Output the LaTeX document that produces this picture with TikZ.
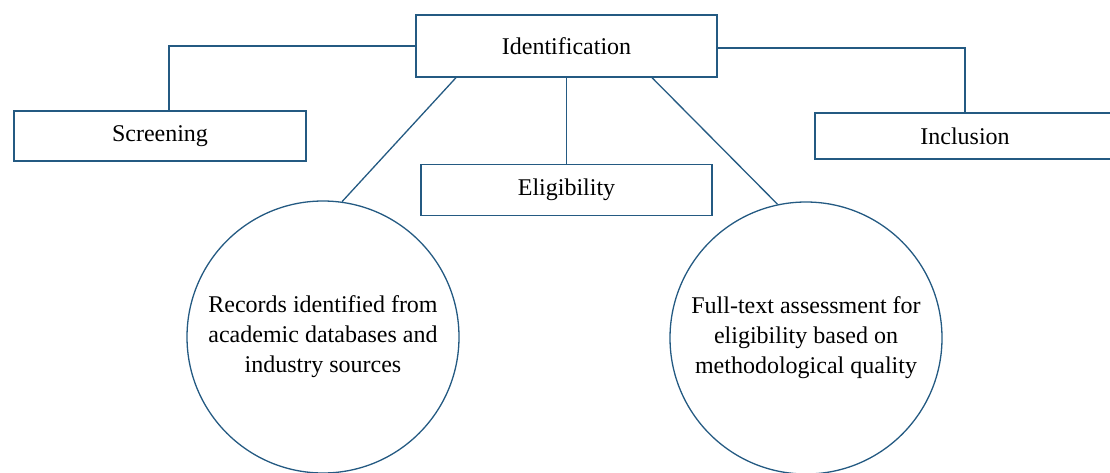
\documentclass[tikz,border=0pt]{standalone}
\usepackage{fontspec}
\setmainfont{Liberation Serif}
\definecolor{edge}{HTML}{245A82}
\begin{document}
\begin{tikzpicture}[x=1pt,y=-1pt,
  box/.style={draw=edge,line width=1.3pt,rectangle,inner sep=0pt,font=\fontsize{24}{30}\selectfont},
  disc/.style={draw=edge,line width=1.3pt,circle,inner sep=0pt,minimum size=272pt,align=center,font=\fontsize{24}{30}\selectfont},
  link/.style={draw=edge,line width=1.3pt}]
\useasboundingbox (0,0) rectangle (1110,472);
\clip (0,0) rectangle (1110,472);
\node[box,minimum width=301pt,minimum height=62pt] (ident) at (566.5,46) {Identification};
\node[box,minimum width=292pt,minimum height=50pt] (screen) at (160,136) {Screening};
\node[box,minimum width=300pt,minimum height=46pt] (incl) at (965,136) {Inclusion};
\node[box,minimum width=291pt,minimum height=51pt] (elig) at (566.5,190) {Eligibility};
\node[disc] (c1) at (323,337) {Records identified from\\academic databases and\\industry sources};
\node[disc] (c2) at (806,338) {Full-text assessment for\\eligibility based on\\methodological quality};
\draw[link] (ident.west) -| ([xshift=9pt]screen.north);
\draw[link] ([yshift=-2pt]ident.east) -| (incl.north);
\draw[link] (ident.south) -- (elig.north);
\draw[link] ([xshift=-110.5pt]ident.south) -- (c1.82);
\draw[link] ([xshift=85.5pt]ident.south) -- (c2.102);
\end{tikzpicture}
\end{document}
